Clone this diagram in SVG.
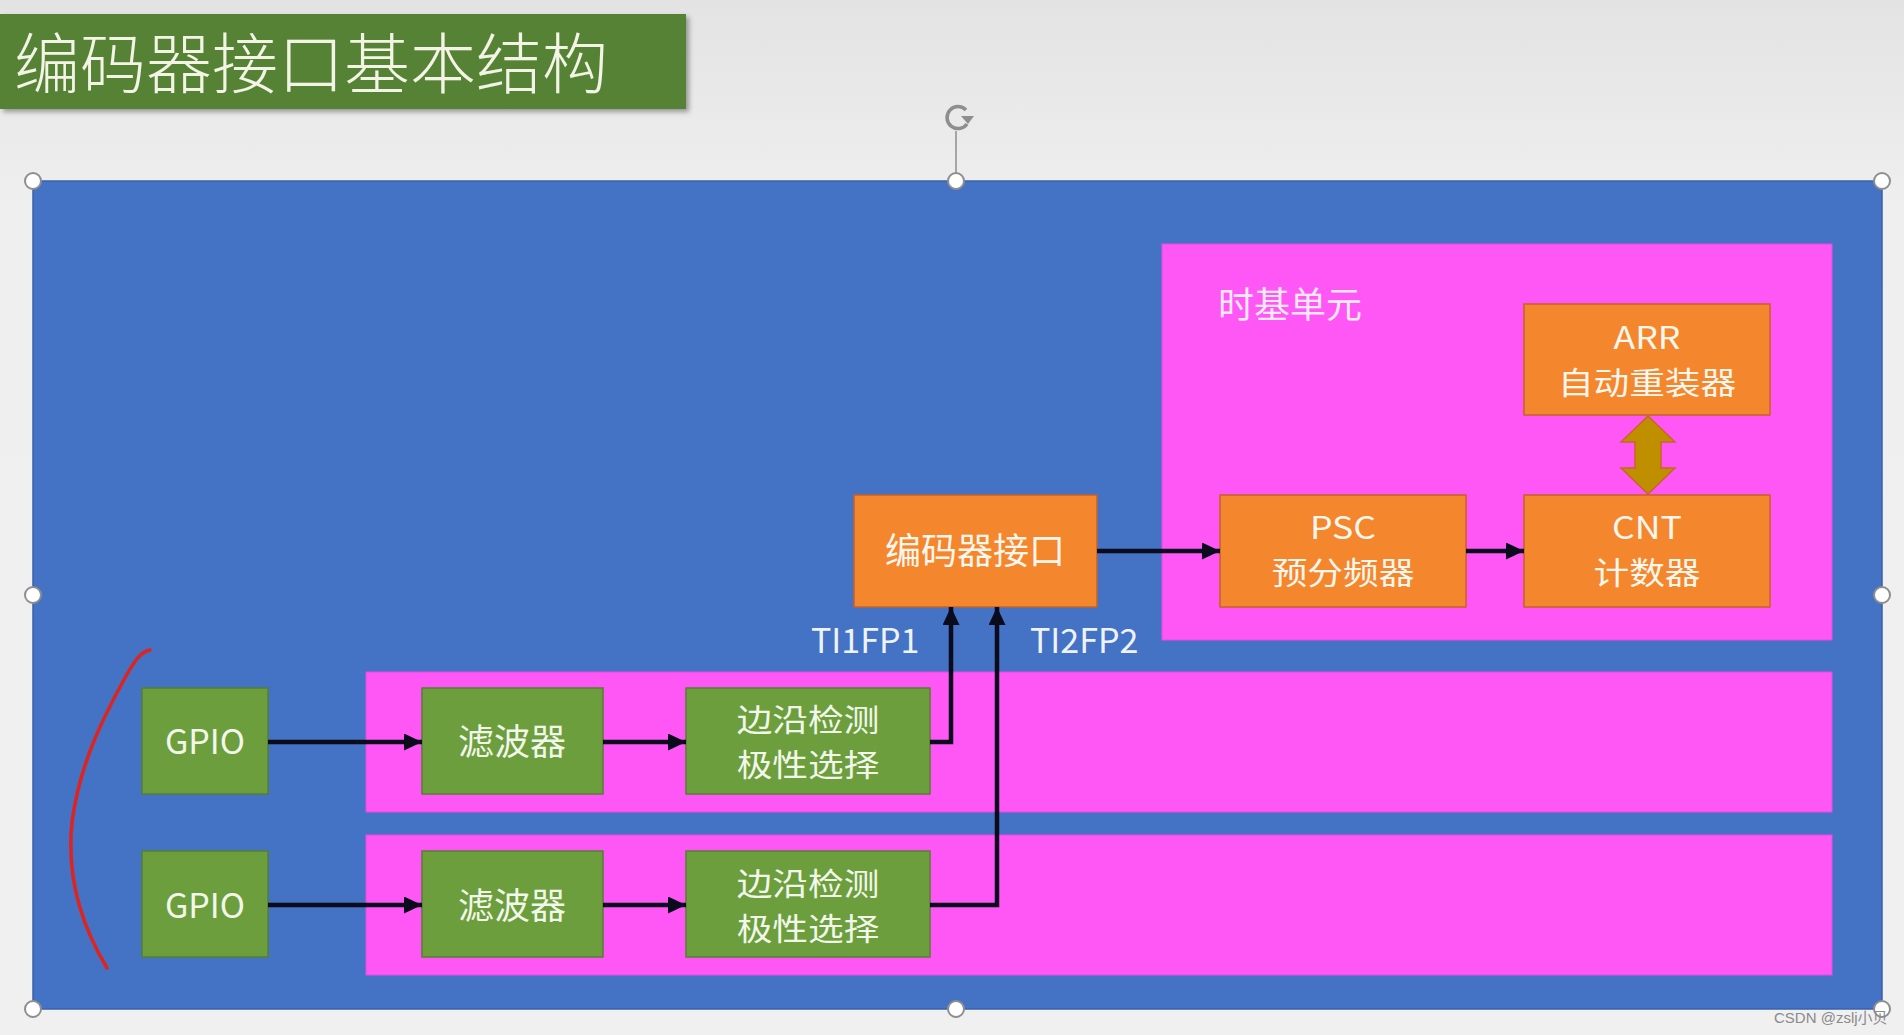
<svg xmlns="http://www.w3.org/2000/svg" width="1904" height="1035" viewBox="0 0 1904 1035">
<defs>
  <linearGradient id="bg" x1="0" y1="0" x2="0" y2="1">
    <stop offset="0" stop-color="#E3E3E3"/>
    <stop offset="0.2" stop-color="#EFEFEF"/>
    <stop offset="1" stop-color="#F0F0F0"/>
  </linearGradient>
  <marker id="ah" markerUnits="userSpaceOnUse" markerWidth="18" markerHeight="17" refX="18" refY="8.5" orient="auto">
    <path d="M0,0 L18,8.5 L0,17 z" fill="#0B0B1E"/>
  </marker>
  <filter id="sh" x="-5%" y="-10%" width="115%" height="130%">
    <feDropShadow dx="3" dy="3" stdDeviation="2.5" flood-color="#000" flood-opacity="0.35"/>
  </filter>
</defs>
<style>
  .orange { fill: #F4862E; stroke: #C4622A; stroke-width: 1.5; }
  .green { fill: #6C9E3E; stroke: #557F32; stroke-width: 1.5; }
  .pink { fill: #FF57F5; stroke: #E84BE0; stroke-width: 1; }
  .t { font-family: "Noto Sans CJK SC", "Noto Sans", sans-serif; fill: #FFF6EC; font-size: 36px; text-anchor: middle; dominant-baseline: central; }
  .t2 { font-size: 31px; }
  .tg { fill: #F2F7EA; }
  .conn { fill: none; stroke: #0B0B1E; stroke-width: 4.5; }
  .handle { fill: #FFFFFF; stroke: #8E8E8E; stroke-width: 2; }
</style>
<rect x="0" y="0" width="1904" height="1035" fill="url(#bg)"/>

<g id="title">
  <rect x="0" y="14" width="686" height="95" fill="#548235" filter="url(#sh)"/>
  <text x="14" y="59" style="font-family: 'Noto Sans CJK SC', sans-serif; font-size: 66px; font-weight: 300; fill: #F4F4E6; dominant-baseline: central;">编码器接口基本结构</text>
</g>

<g id="frame">
  <rect x="33" y="181" width="1849" height="828" fill="#4472C4" stroke="#3A62A8" stroke-width="1.5"/>
</g>

<g id="timebase">
  <rect class="pink" x="1162" y="244" width="670" height="396"/>
  <text x="1218" y="302" style="font-family: 'Noto Sans CJK SC', sans-serif; font-size: 36px; fill: #FBE9FB; dominant-baseline: central;">时基单元</text>
</g>

<g id="strip1"><rect class="pink" x="366" y="672" width="1466" height="140"/></g>
<g id="strip2"><rect class="pink" x="366" y="835" width="1466" height="140"/></g>

<g id="arr">
  <rect class="orange" x="1524" y="304" width="246" height="111"/>
  <g transform="translate(1647 0) scale(1.15 1)">
    <text class="t t2" x="0" y="336">ARR</text>
    <text class="t t2" x="0" y="381">自动重装器</text>
  </g>
</g>
<g id="psc">
  <rect class="orange" x="1220" y="495" width="246" height="112"/>
  <g transform="translate(1343 0) scale(1.15 1)">
    <text class="t t2" x="0" y="526">PSC</text>
    <text class="t t2" x="0" y="571">预分频器</text>
  </g>
</g>
<g id="cnt">
  <rect class="orange" x="1524" y="495" width="246" height="112"/>
  <g transform="translate(1647 0) scale(1.15 1)">
    <text class="t t2" x="0" y="526">CNT</text>
    <text class="t t2" x="0" y="571">计数器</text>
  </g>
</g>
<g id="encoder">
  <rect class="orange" x="854" y="495" width="243" height="112"/>
  <text class="t" x="975" y="548">编码器接口</text>
</g>

<g id="gpio1">
  <rect class="green" x="142" y="688" width="126" height="106"/>
  <text class="t tg" x="205" y="739" style="font-size:34px">GPIO</text>
</g>
<g id="filter1">
  <rect class="green" x="422" y="688" width="181" height="106"/>
  <text class="t tg" x="512" y="739">滤波器</text>
</g>
<g id="edge1">
  <rect class="green" x="686" y="688" width="244" height="106"/>
  <g transform="translate(808 0) scale(1.15 1)">
    <text class="t t2 tg" x="0" y="718">边沿检测</text>
    <text class="t t2 tg" x="0" y="763">极性选择</text>
  </g>
</g>
<g id="gpio2">
  <rect class="green" x="142" y="851" width="126" height="106"/>
  <text class="t tg" x="205" y="903" style="font-size:34px">GPIO</text>
</g>
<g id="filter2">
  <rect class="green" x="422" y="851" width="181" height="106"/>
  <text class="t tg" x="512" y="903">滤波器</text>
</g>
<g id="edge2">
  <rect class="green" x="686" y="851" width="244" height="106"/>
  <g transform="translate(808 0) scale(1.15 1)">
    <text class="t t2 tg" x="0" y="882">边沿检测</text>
    <text class="t t2 tg" x="0" y="927">极性选择</text>
  </g>
</g>

<g id="connectors">
  <line class="conn" x1="268" y1="742" x2="422" y2="742" marker-end="url(#ah)"/>
  <line class="conn" x1="603" y1="742" x2="686" y2="742" marker-end="url(#ah)"/>
  <line class="conn" x1="268" y1="905" x2="422" y2="905" marker-end="url(#ah)"/>
  <line class="conn" x1="603" y1="905" x2="686" y2="905" marker-end="url(#ah)"/>
  <polyline class="conn" points="930,742 951,742 951,607" marker-end="url(#ah)"/>
  <polyline class="conn" points="930,905 997,905 997,607" marker-end="url(#ah)"/>
  <line class="conn" x1="1097" y1="551" x2="1220" y2="551" marker-end="url(#ah)"/>
  <line class="conn" x1="1466" y1="551" x2="1524" y2="551" marker-end="url(#ah)"/>
  <path d="M1648,416 L1675,442 L1661,442 L1661,468 L1675,468 L1648,494 L1621,468 L1635,468 L1635,442 L1621,442 Z" fill="#BF8F00" stroke="#C8642A" stroke-width="1.5"/>
</g>

<g id="labels">
  <text x="811" y="638" style="font-family: 'Noto Sans CJK SC', sans-serif; font-size: 34px; fill: #EEF3FB; dominant-baseline: central;">TI1FP1</text>
  <text x="1030" y="638" style="font-family: 'Noto Sans CJK SC', sans-serif; font-size: 34px; fill: #EEF3FB; dominant-baseline: central;">TI2FP2</text>
</g>

<g id="annotation">
  <path d="M150,650 C140,652 134,662 126,676 C104,716 80,762 72,822 C66,880 84,930 107,968" fill="none" stroke="#E0231C" stroke-width="3.5" stroke-linecap="round"/>
</g>

<g id="selection">
  <line x1="956" y1="131" x2="956" y2="181" stroke="#8E8E8E" stroke-width="1.5"/>
  <path d="M966,110 A11,11 0 1 0 967,124" fill="none" stroke="#8E8E8E" stroke-width="3.5"/>
  <path d="M961,116 L974,116 L968,124 Z" fill="#8E8E8E"/>
  <circle class="handle" cx="33" cy="181" r="8"/>
  <circle class="handle" cx="956" cy="181" r="8"/>
  <circle class="handle" cx="1882" cy="181" r="8"/>
  <circle class="handle" cx="33" cy="595" r="8"/>
  <circle class="handle" cx="1882" cy="595" r="8"/>
  <circle class="handle" cx="33" cy="1009" r="8"/>
  <circle class="handle" cx="956" cy="1009" r="8"/>
  <circle class="handle" cx="1882" cy="1009" r="8"/>
</g>

<text x="1774" y="1023" style="font-family: 'Liberation Sans', 'Noto Sans CJK SC', sans-serif; font-size: 15px; fill: #8A8A8A;">CSDN @zslj小贝</text>
</svg>
